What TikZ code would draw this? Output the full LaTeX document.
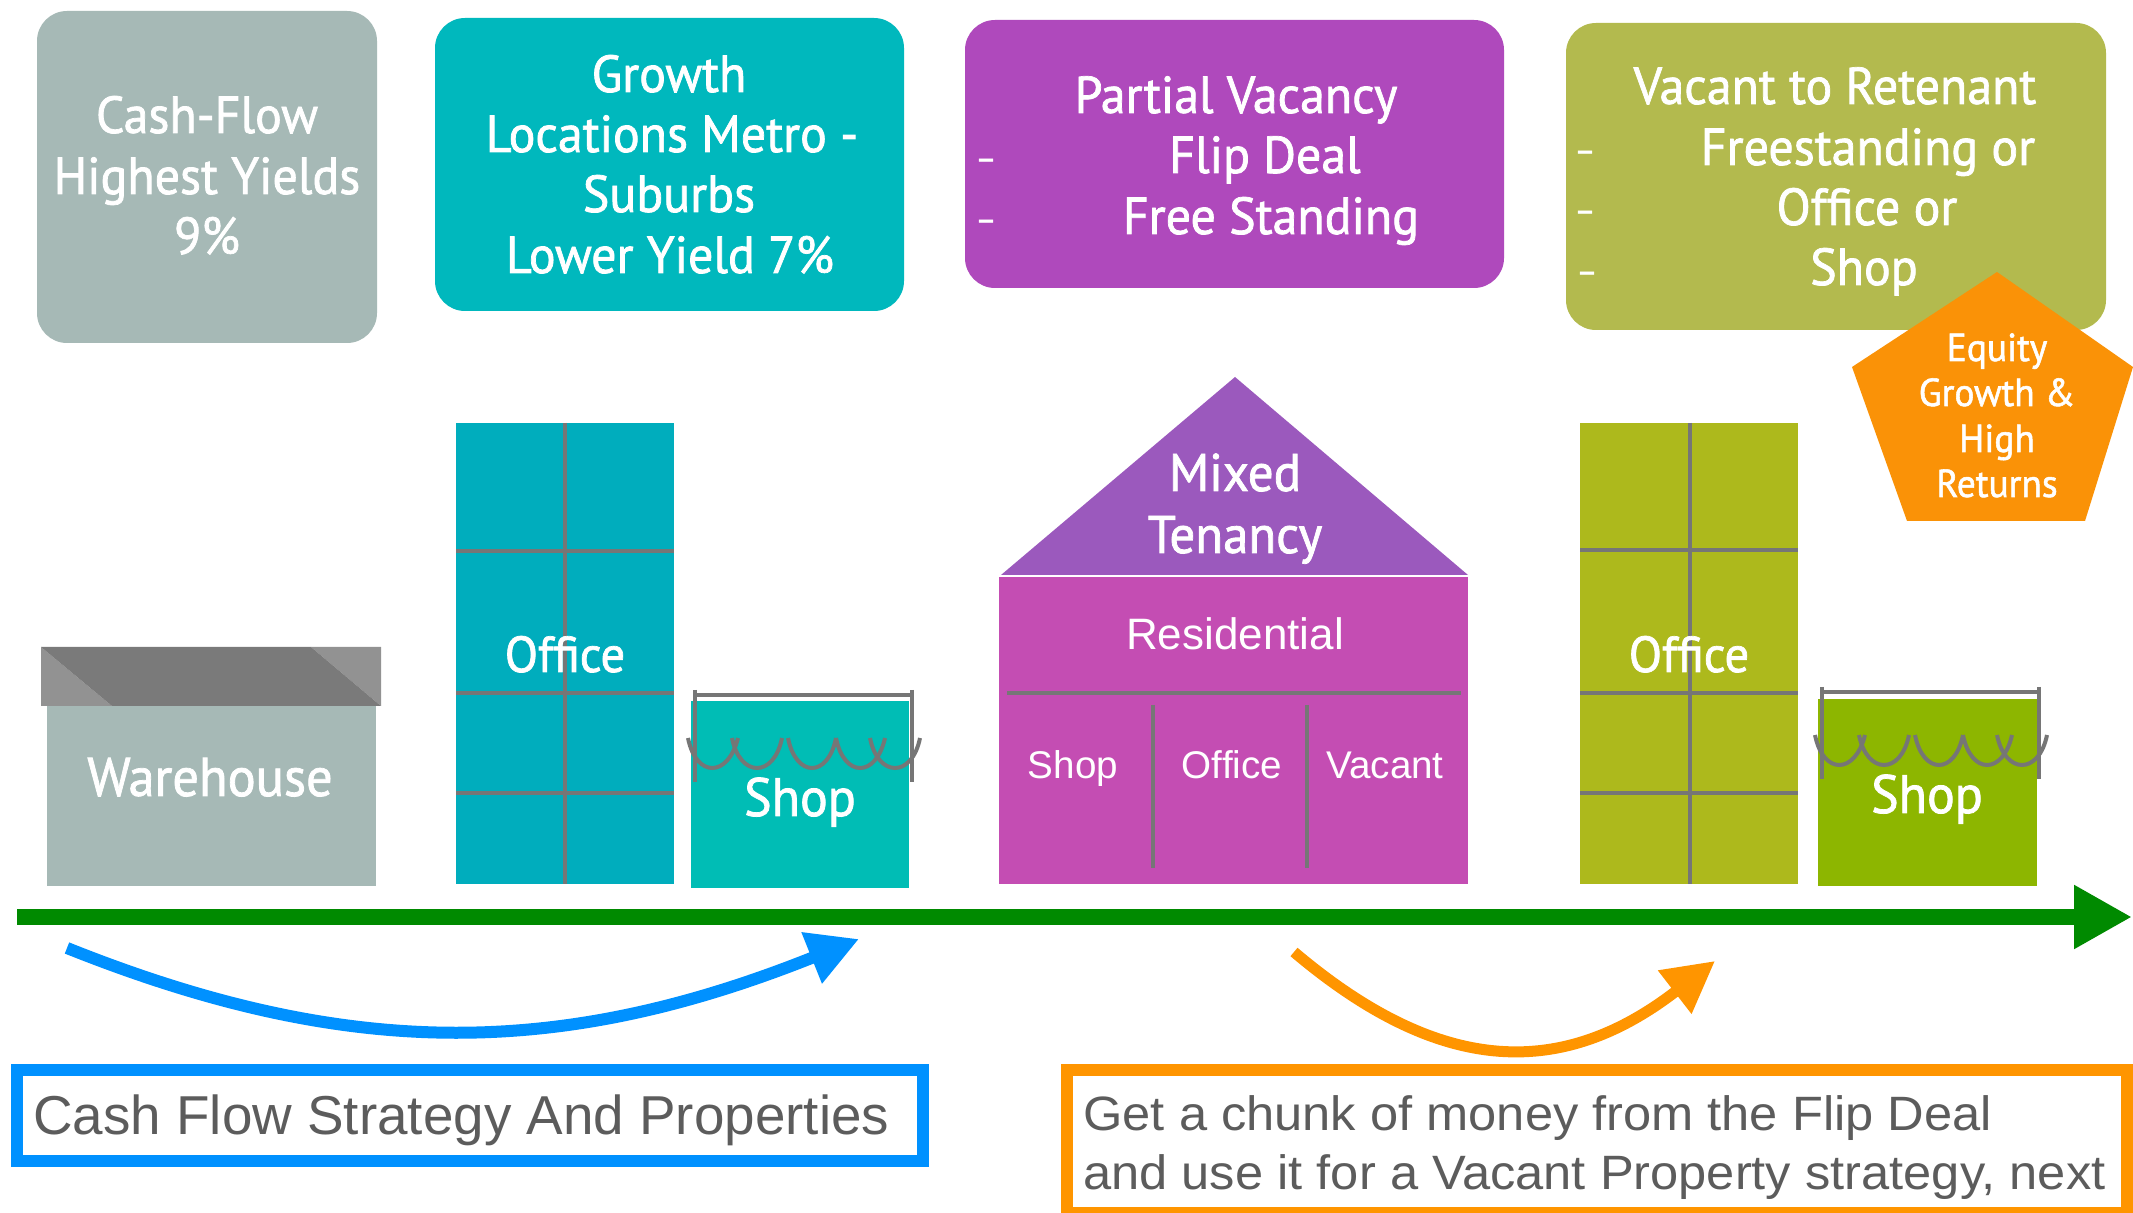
\documentclass[tikz,border=0pt]{standalone}
\usepackage{fontspec}
\usetikzlibrary{arrows.meta}
\setmainfont{Liberation Sans}
\newfontfamily\din[FakeStretch=0.96,FakeBold=1.4]{PT Sans}
\newfontfamily\wide[FakeStretch=1.05]{Liberation Sans}
\definecolor{cGrayBox}{HTML}{A6B9B6}
\definecolor{cTealBox}{HTML}{00B8BD}
\definecolor{cPurpleBox}{HTML}{AF49BC}
\definecolor{cOliveBox}{HTML}{B3BA4E}
\definecolor{cPent}{HTML}{FA9207}
\definecolor{cOffA}{HTML}{00ADBD}
\definecolor{cShopA}{HTML}{00BDB5}
\definecolor{cRoof}{HTML}{9B59BD}
\definecolor{cBody}{HTML}{C44DB3}
\definecolor{cOffB}{HTML}{ADB91C}
\definecolor{cShopB}{HTML}{8DB600}
\definecolor{cGreen}{HTML}{008A00}
\definecolor{cBlue}{HTML}{0091FF}
\definecolor{cOrange}{HTML}{FF9500}
\definecolor{cLine}{HTML}{767676}
\definecolor{cDark}{HTML}{7A7A7A}
\definecolor{cLight}{HTML}{929292}
\definecolor{cInk}{HTML}{5C5C5C}
\tikzset{
  hd/.style={anchor=base,inner sep=0pt,text=white,font=\din\fontsize{26}{30}\selectfont},
  dashmark/.style={anchor=base,inner sep=0pt,text=white,font=\din\fontsize{17}{20}\selectfont},
  lab/.style={anchor=base,inner sep=0pt,text=white,font=\din\fontsize{#1}{30}\selectfont},
  pent/.style={anchor=base,inner sep=0pt,text=white,font=\din\fontsize{19.5}{24}\selectfont},
  ar/.style={anchor=base,inner sep=0pt,text=white,font=\fontsize{22}{25}\selectfont},
  ars/.style={anchor=base,inner sep=0pt,text=white,font=\fontsize{19.3}{23}\selectfont},
  note/.style={anchor=base west,inner sep=0pt,text=cInk},
  rbox/.style={rounded corners=15pt},
  grid/.style={draw=cLine,line width=2pt},
  awn/.style={draw=cLine,line width=2pt},
  flow/.style={line width=#1,-{Triangle[length=25.5pt,width=26pt]}},
}
\newcommand{\awning}[2]{%
  \begin{scope}[shift={(#1,#2)}]
    \draw[awn,line width=2.4pt] (695,695) -- (912,695);
    \draw[awn] (695,690) -- (695,782);
    \draw[awn] (912,690) -- (912,782);
    \draw[awn] (688,738) .. controls (696,778) and (728,778) .. (738,738);
    \draw[awn] (732,738) .. controls (740,778) and (774,778) .. (782,738);
    \draw[awn] (788,738) .. controls (796,778) and (828,778) .. (836,738);
    \draw[awn] (836,738) .. controls (844,778) and (876,778) .. (885,738);
    \draw[awn] (870,738) .. controls (878,778) and (912,778) .. (920,738);
  \end{scope}}
\begin{document}
\begin{tikzpicture}[x=0.5pt,y=-0.5pt]
\useasboundingbox (0,0) rectangle (2133,1213);
\fill[white] (0,0) rectangle (2133,1213);
% top boxes
\fill[cGrayBox,rbox] (37,11) rectangle (377,343);
\fill[cTealBox,rbox] (435,18) rectangle (904,311);
\fill[cPurpleBox,rbox] (965,20) rectangle (1504,288);
\fill[cOliveBox,rbox] (1566,23) rectangle (2106,330);
\node[hd] (a1) at (207,133) {Cash-Flow};
\node[hd] (a2) at (207,194) {Highest Yields};
\node[hd] (a3) at (207,254) {9\%};
\node[hd] (b1) at (669,92) {Growth};
\node[hd] (b2) at (672,152) {Locations Metro -};
\node[hd] (b3) at (669,212) {Suburbs};
\node[hd] (b4) at (670,273) {Lower Yield 7\%};
\node[hd] (c1) at (1236,113) {Partial Vacancy};
\node[hd] (c2) at (1265,173) {Flip Deal};
\node[hd] (c3) at (1271,234) {Free Standing};
\node[dashmark] (cd2) at (986,170) {–};
\node[dashmark] (cd3) at (986,231) {–};
\node[hd] (d1) at (1835,104) {Vacant to Retenant};
\node[hd] (d2) at (1868,165) {Freestanding or};
\node[hd] (d3) at (1867,225) {Office or};
\node[hd] (d4) at (1864,285) {Shop};
\node[dashmark] (dd2) at (1585,162) {–};
\node[dashmark] (dd3) at (1585,222) {–};
\node[dashmark] (dd4) at (1587,283) {–};
% pentagon
\fill[cPent] (1997,272) -- (2133,367) -- (2085,521) -- (1907,521) -- (1852,367) -- cycle;
\node[pent] (e1) at (1997,361) {Equity};
\node[pent] (e2) at (1997,406) {Growth \&};
\node[pent] (e3) at (1997,452) {High};
\node[pent] (e4) at (1997,497) {Returns};
% warehouse
\fill[cGrayBox] (47,706) rectangle (376,886);
\fill[cLight] (41,647) -- (112,706) -- (41,706) -- cycle;
\fill[cLight] (311,647) -- (381,647) -- (381,706) -- cycle;
\fill[cDark] (41,647) -- (311,647) -- (381,706) -- (112,706) -- cycle;
\node[lab=27.3] (w) at (210,796) {Warehouse};
% office 1
\fill[cOffA] (456,423) rectangle (674,884);
\draw[grid] (565,423) -- (565,884);
\draw[grid] (456,551) -- (674,551);
\draw[grid] (456,693) -- (674,693);
\draw[grid] (456,793) -- (674,793);
\node[lab=25.3] (o1) at (565,672) {Office};
% shop 1
\fill[cShopA] (691,701) rectangle (909,888);
\awning{0}{0}
\node[lab=27] (s1) at (800,816) {Shop};
% house
\fill[cRoof] (1235,377) -- (1468,575) -- (1001,575) -- cycle;
\fill[cBody] (999,577) rectangle (1468,884);
\draw[grid] (1007,693) -- (1461,693);
\draw[grid] (1153,705) -- (1153,868);
\draw[grid] (1307,705) -- (1307,868);
\node[lab=26.5] (h1) at (1235,491) {Mixed};
\node[lab=26.5] (h2) at (1235,553) {Tenancy};
\node[ar] (h3) at (1235,650) {Residential};
\node[ars] (h4) at (1073,779) {Shop};
\node[ars] (h5) at (1232,779) {Office};
\node[ars] (h6) at (1385,779) {Vacant};
% office 2
\fill[cOffB] (1580,423) rectangle (1798,884);
\draw[grid] (1690,423) -- (1690,884);
\draw[grid] (1580,550) -- (1798,550);
\draw[grid] (1580,693) -- (1798,693);
\draw[grid] (1580,793) -- (1798,793);
\node[lab=25.3] (o2) at (1689,672) {Office};
% shop 2
\fill[cShopB] (1818,699) rectangle (2037,886);
\awning{1127}{-3}
\node[lab=27] (s2) at (1927,813) {Shop};
% timeline
\coordinate (tl0) at (17,917);
\coordinate (tl1) at (2132,917);
\draw[cGreen,line width=8pt,-{Triangle[length=29pt,width=30pt]}] (tl0) -- (tl1);
% curved arrows
\coordinate (ba) at (67,948);
\coordinate (bb) at (859,939);
\draw[flow=6pt,cBlue] (ba) .. controls (347,1060) and (559,1059) .. (bb);
\coordinate (oa) at (1294,952);
\coordinate (ob) at (1715,961);
\draw[flow=5.5pt,cOrange] (oa) .. controls (1444,1079) and (1565,1077) .. (ob);
% notes
\draw[cBlue,line width=6pt] (17,1069.5) rectangle (923,1160.5);
\node[note,font=\fontsize{27.4}{32}\selectfont] (n1) at (33,1134) {Cash Flow Strategy And Properties};
\draw[cOrange,line width=6pt] (1067,1069.5) rectangle (2127,1213);
\node[note,font=\wide\fontsize{24.1}{28}\selectfont] (n2) at (1083,1130) {Get a chunk of money from the Flip Deal};
\node[note,font=\wide\fontsize{24.1}{28}\selectfont] (n3) at (1083,1189) {and use it for a Vacant Property strategy, next};
\end{tikzpicture}
\end{document}
